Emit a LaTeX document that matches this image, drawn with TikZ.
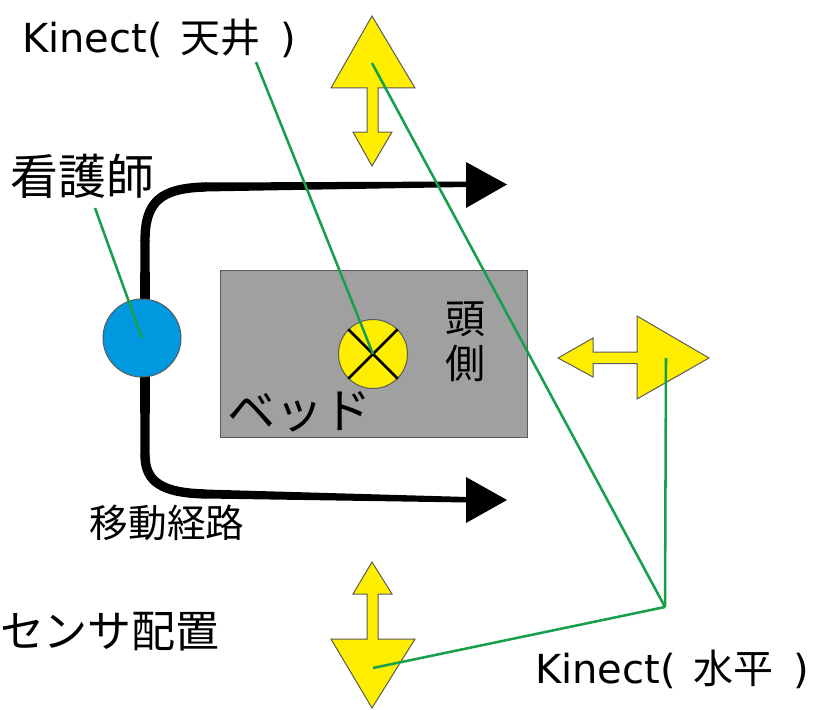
\documentclass[tikz,border=0pt]{standalone}
\usepackage{fontspec}
\setmainfont{DejaVu Sans}
\newfontfamily\jp{Noto Sans CJK JP}
\definecolor{camyellow}{RGB}{255,238,0}
\definecolor{nurseblue}{RGB}{0,152,222}
\definecolor{bedgray}{RGB}{160,160,160}
\definecolor{leadgreen}{RGB}{22,160,75}
\definecolor{edgegray}{RGB}{90,90,90}
\begin{document}
\begin{tikzpicture}[x=0.75pt,y=-0.75pt,
  camshape/.style={fill=camyellow,draw=edgegray,line width=0.75pt,line join=miter},
  leader/.style={draw=leadgreen,line width=1.9pt},
  pathfill/.style={fill=black},
  pathline/.style={draw=black,line width=6pt},
  label/.style={inner sep=0pt,outer sep=0pt,text=black}]
\useasboundingbox (0,0) rectangle (814,710);
\fill[white] (0,0) rectangle (814,710);

% bed
\node[draw=edgegray,line width=0.75pt,fill=bedgray,minimum width=307*0.75pt,minimum height=167*0.75pt,inner sep=0pt,anchor=north west] (bed) at (220,270) {};

% movement path (tapered)
\fill[pathfill] (140,305) -- (150,305) -- (149.5,240) -- (140.5,240) -- cycle;
\draw[pathline,line width=7pt] (145,241) .. controls (145,202) and (160,188) .. (206,187);
\fill[pathfill] (205,182.5) -- (468,181.5) -- (468,187) -- (205,191.5) -- cycle;
\fill[pathfill] (466,162) -- (507,184.5) -- (466,208) -- cycle;

\fill[pathfill] (140,370) -- (150,370) -- (149.5,456) -- (140.5,456) -- cycle;
\draw[pathline,line width=7pt] (145,455) .. controls (145,482) and (162,493) .. (206,494);
\fill[pathfill] (205,489.5) -- (468,497) -- (468,502.5) -- (205,498.5) -- cycle;
\fill[pathfill] (466,477) -- (507,500) -- (466,523) -- cycle;

% nurse
\node[circle,fill=nurseblue,draw=edgegray,line width=0.75pt,minimum size=78*0.75pt,inner sep=0pt] (nurse) at (142,338) {};

% ceiling kinect on the bed
\node[circle,fill=camyellow,draw=edgegray,line width=0.75pt,minimum size=69*0.75pt,inner sep=0pt] (ceil) at (373,354) {};
\draw[line width=2pt,black] (ceil.north west) -- (ceil.south east);
\draw[line width=2pt,black] (ceil.north east) -- (ceil.south west);

% horizontal kinects
\draw[camshape] (372,16) -- (415,88) -- (378,88) -- (378,132) -- (392,132) -- (372,166) -- (353,132) -- (367,132) -- (367,88) -- (331,88) -- cycle;
\coordinate (camTop) at (372,63);
\draw[camshape] (709,358) -- (637,399) -- (637,363.5) -- (593,363.5) -- (593,377) -- (558,358) -- (593,338) -- (593,352) -- (637,352) -- (637,316) -- cycle;
\coordinate (camRight) at (666,358);
\draw[camshape] (372,708) -- (331,639) -- (367,639) -- (367,594) -- (353,594) -- (372,562) -- (392,594) -- (378,594) -- (378,639) -- (415,639) -- cycle;
\coordinate (camBottom) at (373,668);

% texts
\node[label,anchor=base west] (lblCeil) at (22,53) {\fontsize{30pt}{36pt}\selectfont Kinect(\hspace{0.45em}{\jp 天井}\hspace{0.5em})};
\node[label,anchor=base west] (lblHoriz) at (535,683) {\fontsize{30pt}{36pt}\selectfont Kinect(\hspace{0.45em}{\jp 水平}\hspace{0.5em})};
\node[label] (lblNurse) at (83,176) {\jp\fontsize{36pt}{40pt}\selectfont 看護師};
\node[label] (lblRoute) at (167,523) {\jp\fontsize{29pt}{32pt}\selectfont 移動経路};
\node[label] (lblTitle) at (110,632) {\jp\fontsize{33pt}{36pt}\selectfont センサ配置};
\node[label,align=center,font={\jp\fontsize{30pt}{34pt}\selectfont}] (lblHead) at (465,342) {頭\\側};
\node[label] (lblBed) at (299,412) {\jp\fontsize{36pt}{40pt}\selectfont ベッド};

% leader lines
\coordinate (ceilLead) at (256,62);
\coordinate (nurseLead) at (95,208);
\coordinate (hub) at (665,607);
\draw[leader] (ceilLead) -- (ceil.center);
\draw[leader] (nurseLead) -- (nurse.center);
\draw[leader] (camTop) -- (hub);
\draw[leader] (camRight) -- (hub);
\draw[leader] (camBottom) -- (hub);
\end{tikzpicture}
\end{document}
